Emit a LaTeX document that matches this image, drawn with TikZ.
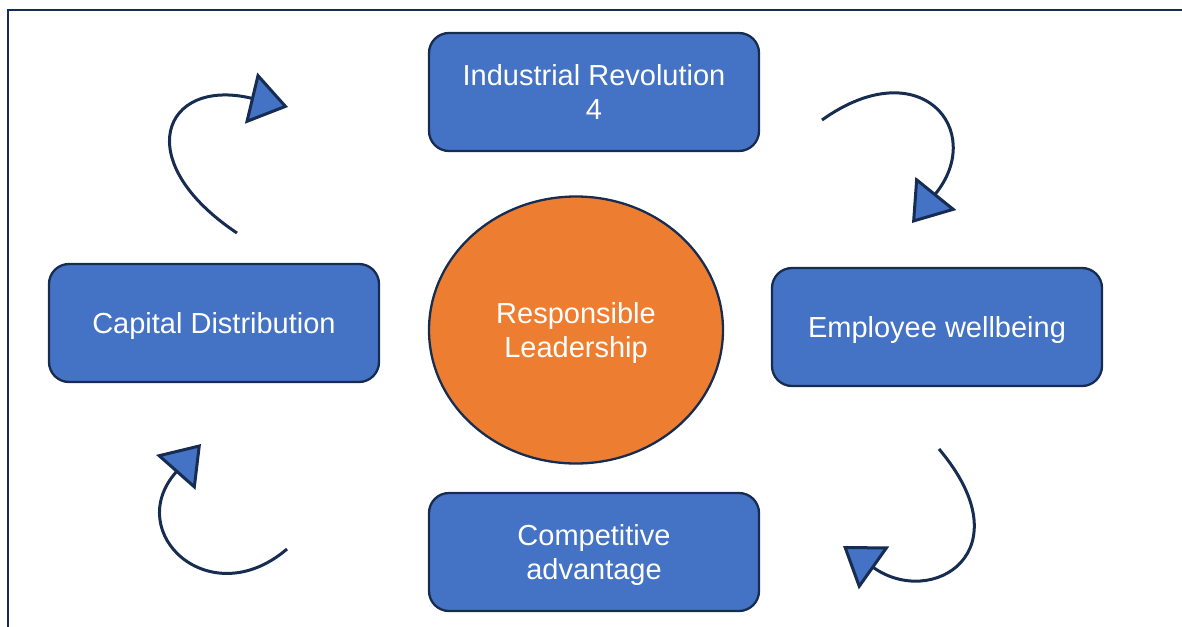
\documentclass[tikz,border=0pt]{standalone}
\usepackage{fontspec}
\setmainfont{Liberation Sans}
\usepackage{tikz}
\usetikzlibrary{shapes.geometric, arrows.meta, positioning}
\definecolor{boxblue}{HTML}{4472C4}
\definecolor{leadorange}{HTML}{ED7D31}
\definecolor{navy}{HTML}{172C51}
\tikzstyle{stage} = [rectangle, rounded corners=20pt, fill=boxblue, draw=navy, line width=2.3pt, minimum width=330pt, minimum height=118pt, inner sep=0pt, text depth=0pt, text=white, align=center, font=\fontsize{29}{34}\selectfont]
\tikzstyle{core} = [ellipse, fill=leadorange, draw=navy, line width=2.3pt, minimum width=294pt, minimum height=267pt, inner sep=0pt, text depth=0pt, text=white, align=center, font=\fontsize{29}{34}\selectfont]
\tikzstyle{turn} = [draw=navy, line width=3pt, -{Triangle[length=38pt, width=52pt, fill=boxblue]}]

\begin{document}
\begin{tikzpicture}[x=1pt, y=-1pt]
			\useasboundingbox (0,0) rectangle (1182,626);
			\clip (0,0) rectangle (1182,626);
			\draw [navy, line width=2pt] (8,660) -- (8,10) -- (1200,10);
			
			\node [stage] (ir) at (594,92) {Industrial Revolution\\4};
			\node [stage] (capital) at (214,323) {Capital Distribution};
			\node [stage] (wellbeing) at (937,327) {Employee wellbeing};
			\node [stage] (advantage) at (594,552) {Competitive\\advantage};
			\node [core] (leader) at (576,330) {Responsible\\Leadership};
			
			\coordinate (a1) at (237,233);
			\coordinate (a2) at (288,107);
			\coordinate (b1) at (822,120);
			\coordinate (b2) at (912,223);
			\coordinate (c1) at (939,449);
			\coordinate (c2) at (843,546);
			\coordinate (d1) at (287,549);
			\coordinate (d2) at (201,444);
			
			\path [turn] (a1) .. controls (129,161) and (163,77) .. (a2);
			\path [turn] (b1) .. controls (920,50) and (987,130) .. (b2);
			\path [turn] (c1) .. controls (1026,552) and (932,609) .. (c2);
			\path [turn] (d1) .. controls (210,615) and (122,533) .. (d2);
		\end{tikzpicture}
\end{document}
